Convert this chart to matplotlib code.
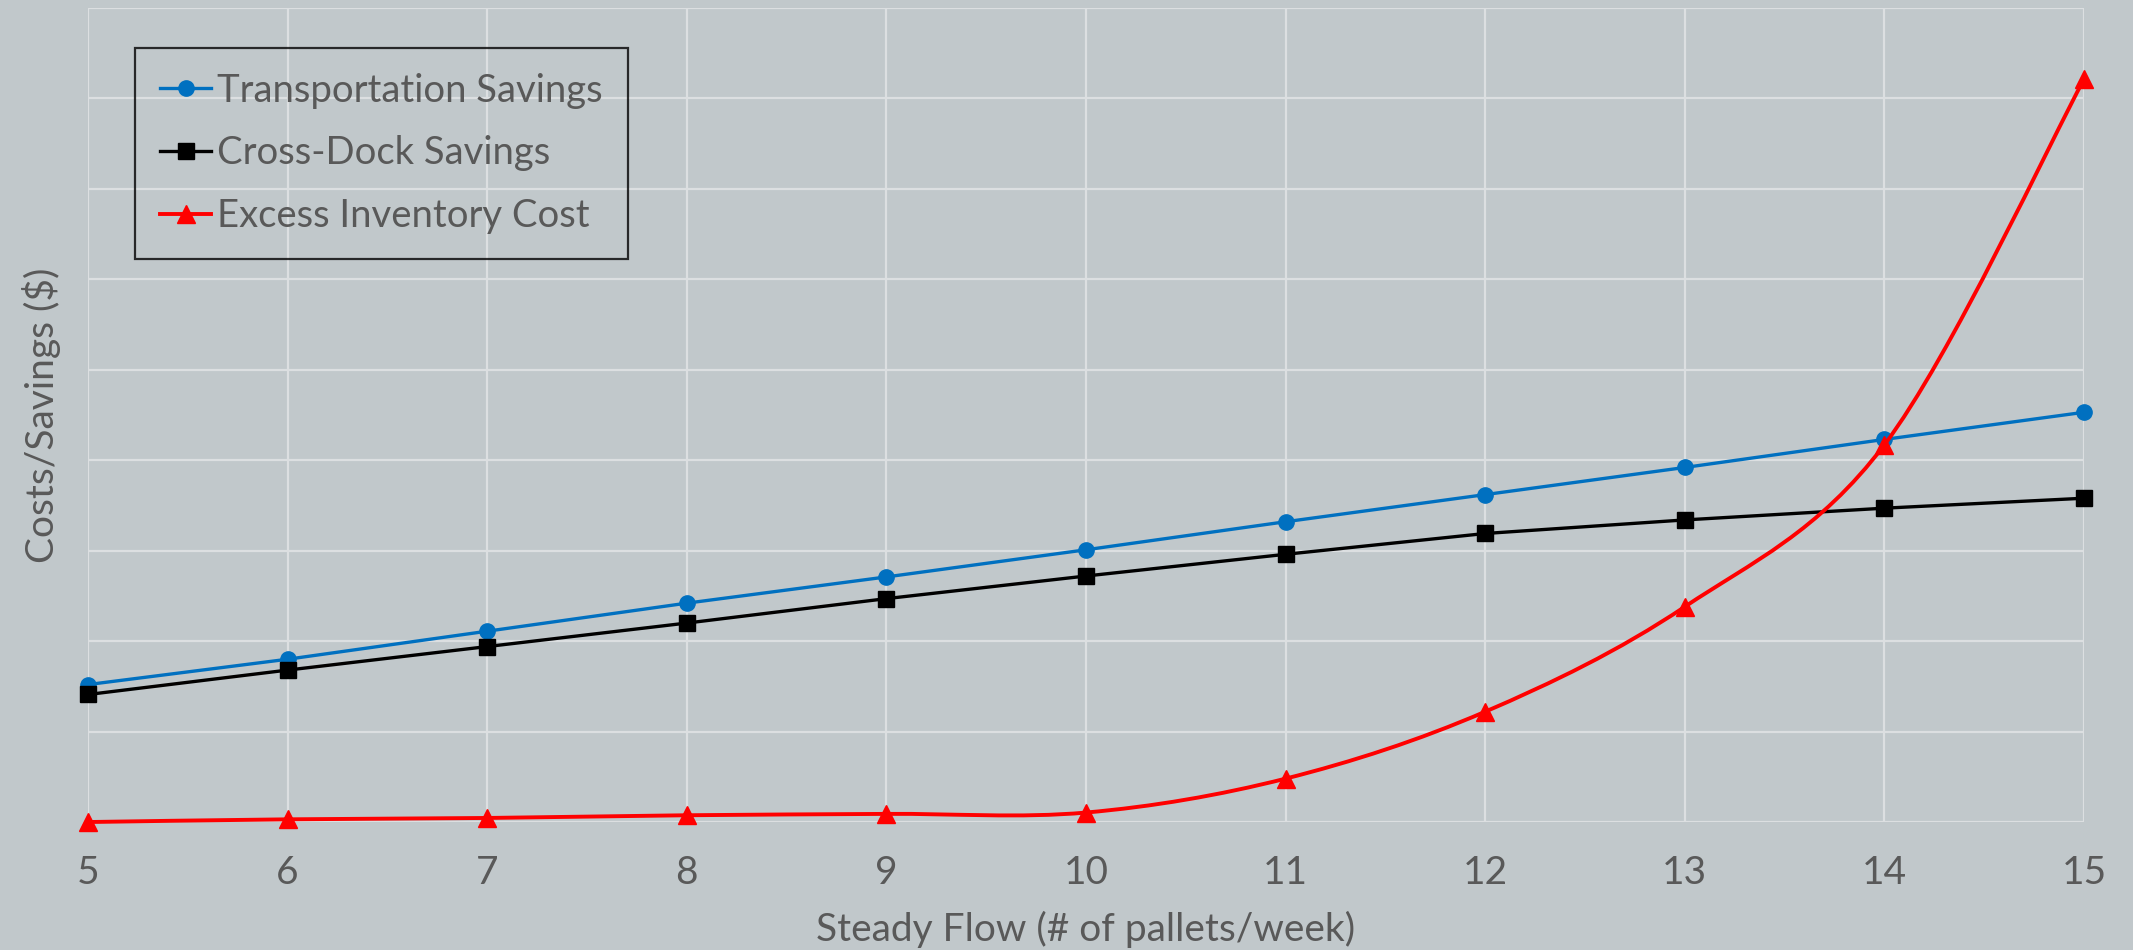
import numpy as np
import matplotlib.pyplot as plt
from matplotlib.path import Path
from matplotlib.patches import PathPatch
from matplotlib.lines import Line2D

# pallets per week
flow = [5, 6, 7, 8, 9, 10, 11, 12, 13, 14, 15]

# values in grid units (axis has no value labels)
transport_savings = [1.52, 1.80, 2.11, 2.42, 2.71, 3.01, 3.32, 3.62, 3.92, 4.23, 4.53]
crossdock_savings = [1.41, 1.68, 1.94, 2.20, 2.47, 2.72, 2.96, 3.19, 3.34, 3.47, 3.58]
excess_inventory = [0.0, 0.03, 0.045, 0.075, 0.09, 0.105, 0.48, 1.22, 2.38, 4.17, 8.21]

x_ticks = flow
y_grid = list(range(0, 10))

BG = '#c1c8cb'
GRID = '#dcdfe1'
TEXT = '#595959'
FONT = ['Lato', 'DejaVu Sans']


def smooth_path(xs, ys):
    """Excel-like smoothed line: cubic bezier through every point."""
    pts = np.column_stack([xs, ys]).astype(float)
    n = len(pts)
    verts = [pts[0]]
    codes = [Path.MOVETO]
    for i in range(n - 1):
        p0 = pts[i - 1] if i > 0 else pts[i]
        p1 = pts[i]
        p2 = pts[i + 1]
        p3 = pts[i + 2] if i + 2 < n else pts[i + 1]
        c1 = p1 + (p2 - p0) / 6.0
        c2 = p2 - (p3 - p1) / 6.0
        verts += [c1, c2, p2]
        codes += [Path.CURVE4] * 3
    return Path(verts, codes)


plt.rcParams['font.family'] = FONT

fig = plt.figure(figsize=(21.33, 9.5), dpi=100, facecolor=BG)
ax = fig.add_axes([0.0413, 0.1347, 0.9357, 0.8569])
ax.set_facecolor(BG)

ax.set_xlim(5, 15)
ax.set_ylim(0, 9)
ax.set_xticks(x_ticks)
ax.set_yticks(y_grid)
ax.set_yticklabels([])
ax.tick_params(axis='x', length=0, pad=24, labelsize=28, labelcolor=TEXT)
ax.tick_params(axis='y', length=0)
ax.grid(True, color=GRID, linewidth=1.6)
ax.set_axisbelow(True)
for s in ax.spines.values():
    s.set_visible(False)

ax.plot(flow, transport_savings, color='#0070c0', lw=2.4, marker='o',
        ms=11, clip_on=False, zorder=3)
ax.plot(flow, crossdock_savings, color='black', lw=2.4, marker='s',
        ms=11.5, clip_on=False, zorder=3)

ax.add_patch(PathPatch(smooth_path(flow, excess_inventory), facecolor='none',
                       edgecolor='#ff0000', lw=2.8, zorder=4, clip_on=False))
ax.plot(flow, excess_inventory, ls='none', color='#ff0000', marker='^',
        ms=13, clip_on=False, zorder=5)

ax.set_xlabel('Steady Flow (# of pallets/week)', fontsize=28, color=TEXT, labelpad=14)
ax.set_ylabel('Costs/Savings ($)', fontsize=28, color=TEXT, labelpad=16)

handles = [
    Line2D([], [], color='#0070c0', lw=2.4, marker='o', ms=11),
    Line2D([], [], color='black', lw=2.4, marker='s', ms=11.5),
    Line2D([], [], color='#ff0000', lw=2.8, marker='^', ms=13),
]
labels = ['Transportation Savings', 'Cross-Dock Savings', 'Excess Inventory Cost']
leg = ax.legend(handles, labels, loc='upper left', bbox_to_anchor=(0.0235, 0.951),
                borderaxespad=0, fontsize=27.5, frameon=True, fancybox=False,
                handlelength=1.35, handletextpad=0.15, labelspacing=0.7,
                borderpad=0.65)
leg.get_frame().set_facecolor('none')
leg.get_frame().set_edgecolor('black')
leg.get_frame().set_linewidth(1.6)
for t in leg.get_texts():
    t.set_color(TEXT)

fig.savefig('out.png', dpi=100, facecolor=BG)
